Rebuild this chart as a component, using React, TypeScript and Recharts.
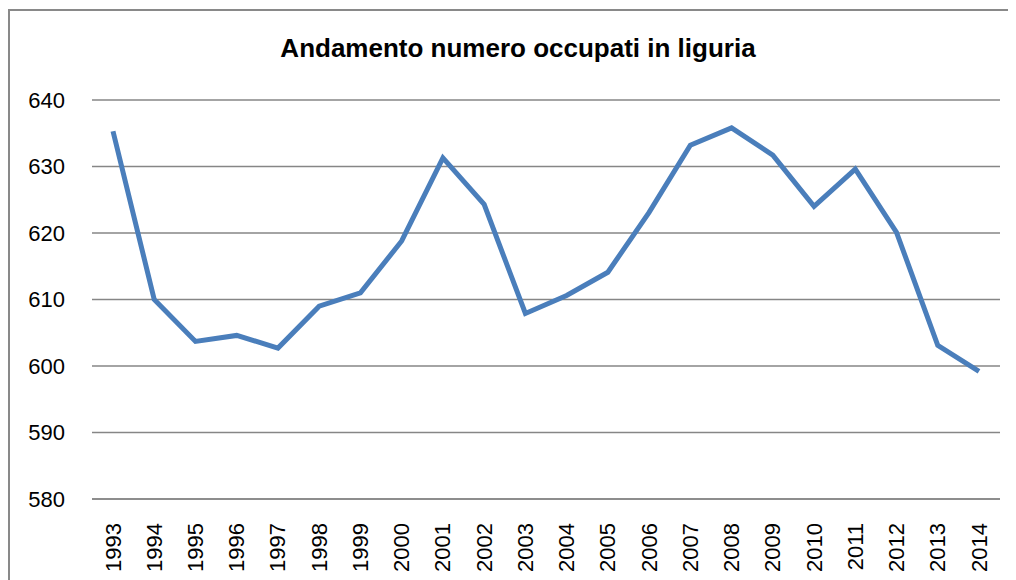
import { LineChart, Line, XAxis, YAxis, CartesianGrid } from "recharts";

const years = [
  "1993", "1994", "1995", "1996", "1997", "1998", "1999", "2000", "2001", "2002", "2003",
  "2004", "2005", "2006", "2007", "2008", "2009", "2010", "2011", "2012", "2013", "2014",
];

const occupati = [
  635.3, 610.0, 603.7, 604.6, 602.7, 609.0, 611.0, 618.8, 631.3, 624.3, 607.9,
  610.6, 614.1, 623.1, 633.2, 635.8, 631.7, 624.0, 629.6, 620.1, 603.1, 599.2,
];

const yTicks = [580, 590, 600, 610, 620, 630, 640];

const data = years.map((y, i) => ({ anno: y, valore: occupati[i] }));

const FONT = "'Liberation Sans', Arial, sans-serif";

function YearTick(props: any) {
  const { x, y, payload } = props;
  return (
    <text
      x={x}
      y={y + 16}
      transform={`rotate(-90, ${x}, ${y + 16})`}
      textAnchor="end"
      dominantBaseline="central"
      fontSize={22}
      fontFamily={FONT}
      fill="#000"
    >
      {payload.value}
    </text>
  );
}

export default function App() {
  return (
    <div style={{ position: "relative", width: 1000, height: 572 }}>
      <div
        style={{
          position: "absolute",
          left: 0,
          top: 1,
          width: 1008,
          height: 571,
          borderLeft: "2px solid #898989",
          borderTop: "2px solid #898989",
          boxSizing: "border-box",
        }}
      />
      <div
        style={{
          position: "absolute",
          left: 0,
          top: 25,
          width: 1020,
          textAlign: "center",
          fontFamily: FONT,
          fontWeight: "bold",
          fontSize: 26,
          color: "#000",
        }}
      >
        Andamento numero occupati in liguria
      </div>
      <div style={{ position: "absolute", left: 0, top: 0 }}>
        <LineChart
          width={1000}
          height={572}
          data={data}
          margin={{ top: 92, right: 8, bottom: 0, left: 0 }}
        >
          <CartesianGrid vertical={false} stroke="#868686" strokeWidth={1.5} />
          <XAxis
            dataKey="anno"
            height={81}
            padding={{ left: 21, right: 21 }}
            tick={<YearTick />}
            tickLine={false}
            axisLine={{ stroke: "#868686", strokeWidth: 1.5 }}
            interval={0}
          />
          <YAxis
            width={84}
            domain={[580, 640]}
            ticks={yTicks}
            tickSize={0}
            tickMargin={27}
            axisLine={false}
            tickLine={false}
            tick={{ fontSize: 22, fontFamily: FONT, fill: "#000" }}
          />
          <Line
            type="linear"
            dataKey="valore"
            stroke="#4a7ebb"
            strokeWidth={5}
            dot={false}
            activeDot={false}
            isAnimationActive={false}
          />
        </LineChart>
      </div>
    </div>
  );
}
